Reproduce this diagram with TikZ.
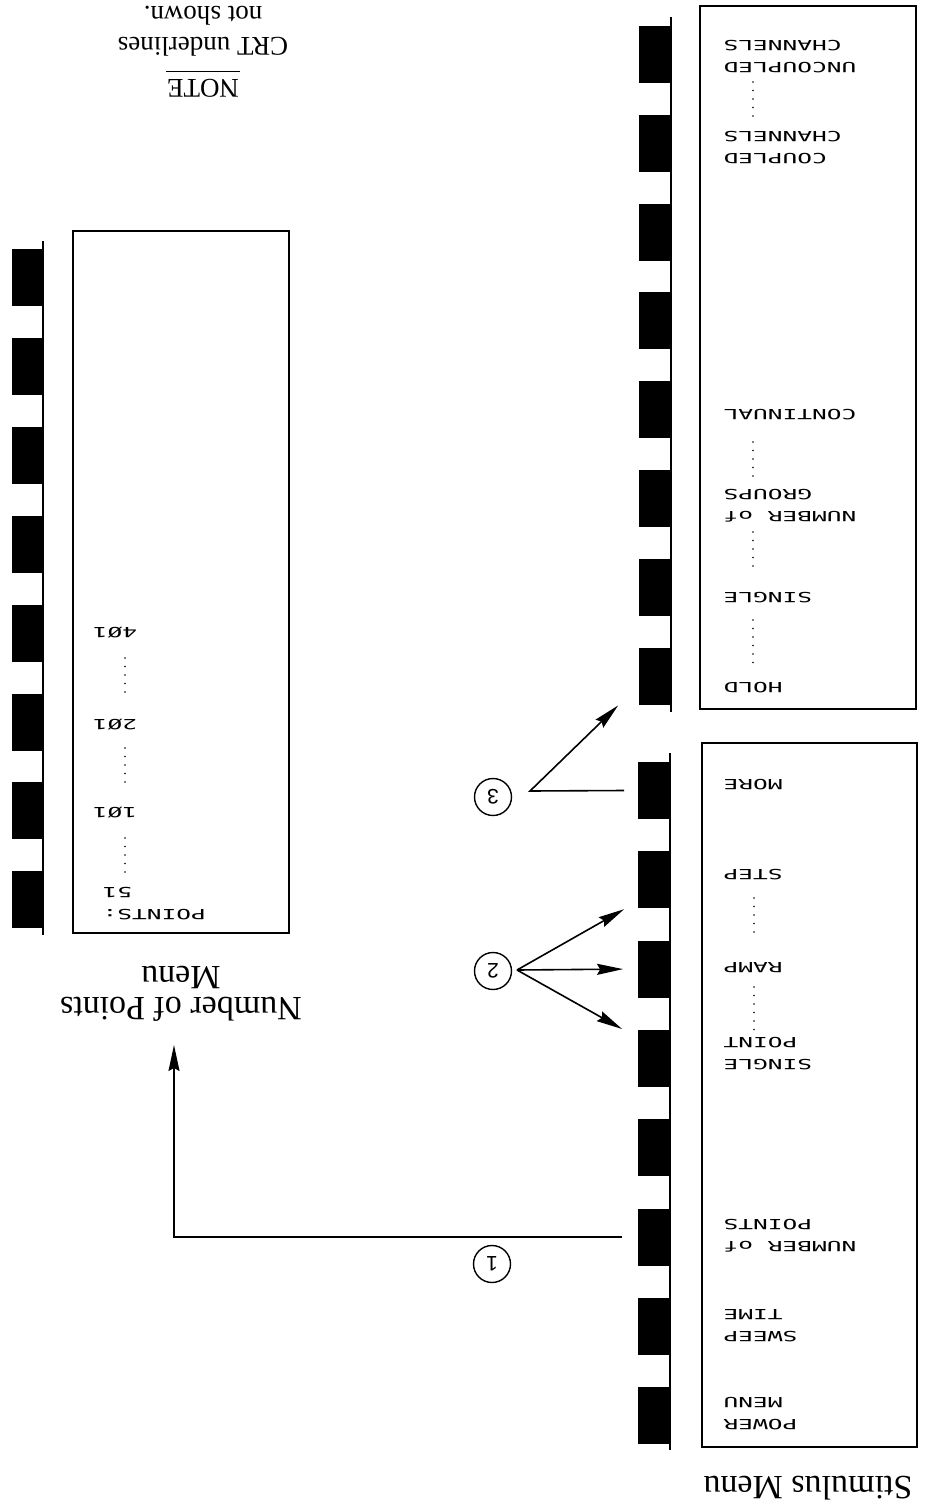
\documentclass[tikz,border=0pt]{standalone}
\usepackage{fontspec}
\setmainfont{Liberation Serif}
\newfontfamily\crtfont{DejaVu Sans Mono}
\newfontfamily\numfont{Liberation Sans}
\usetikzlibrary{arrows.meta}
\tikzstyle{arrow} = [line width=1.6pt,-{Stealth[length=26pt,width=11pt,inset=3pt]}]
\tikzstyle{softkey} = [fill=black, minimum width=32pt, minimum height=57pt, inner sep=0pt]
\tikzstyle{crt} = [rotate=180, xscale=1.75, inner sep=0pt, anchor=east, align=right, font=\crtfont\fontsize{14}{22}\selectfont]
\tikzstyle{caption} = [rotate=180, inner sep=0pt, align=center, font=\fontsize{34}{31}\selectfont]
\tikzstyle{notetext} = [rotate=180, inner sep=0pt, anchor=base, font=\fontsize{27}{30}\selectfont]
\tikzstyle{num} = [draw, circle, line width=1.4pt, minimum size=37pt, inner sep=0pt, rotate=180, font=\numfont\fontsize{21}{24}\selectfont]
\tikzstyle{crtdots} = [line width=1.8pt, line cap=round, dash pattern=on 0pt off 8.5pt]

\begin{document}
\begin{tikzpicture}[x=1pt, y=-1pt, line width=1.8pt]
  \useasboundingbox (0,0) rectangle (924,1511);
  % screens and softkey columns
  \draw (73,231) rectangle (289,933);
  \draw (700,6) rectangle (916,709);
  \draw (702,743) rectangle (917,1447);
  \draw (43,241) -- (43,935);
  \draw (671,17) -- (671,712);
  \draw (670,753) -- (670,1450);
  \foreach \i in {1,...,8} {
    \node[softkey] (ka\i) at (655,{54.5+88.8*(\i-1)}) {};
    \node[softkey] (kb\i) at (654,{790.5+89.3*(\i-1)}) {};
    \node[softkey] (kc\i) at (27.5,{277.5+88.9*(\i-1)}) {};
  }
  % stimulus menu
  \node[crt] (power) at (722,1414) {POWER\\MENU};
  \node[crt] (sweep) at (722,1326) {SWEEP\\TIME};
  \node[crt] (npts) at (722,1236) {NUMBER of\\POINTS};
  \node[crt] (spoint) at (722,1054) {SINGLE\\POINT};
  \node[crt] (ramp) at (722,968) {RAMP};
  \node[crt] (stepk) at (722,875) {STEP};
  \node[crt] (more) at (722,785) {MORE};
  % more page
  \node[crt] (hold) at (722,688) {HOLD};
  \node[crt] (single) at (722,598) {SINGLE};
  \node[crt] (ngroups) at (722,506) {NUMBER of\\GROUPS};
  \node[crt] (contin) at (722,415) {CONTINUAL};
  \node[crt] (coupled) at (722,148) {COUPLED\\CHANNELS};
  \node[crt] (uncoupled) at (722,56.5) {UNCOUPLED\\CHANNELS};
  % number of points menu
  \node[crt] (pts) at (101,904) {POINTS:\\51};
  \node[crt, anchor=center] (p101) at (115,813) {1Ø1};
  \node[crt, anchor=center] (p201) at (115,725) {2Ø1};
  \node[crt, anchor=center] (p401) at (115,633) {4Ø1};
  \foreach \x/\ya/\yb in {754/987/1032, 754/898/940, 753/620/663, 753/532/573, 753/442/483, 753/82/122, 125/838/880, 125/748/790, 125/658/700}
    \draw[crtdots] (\x,\ya) -- (\x,\yb);
  % captions
  \node[caption] (stimmenu) at (808,1488) {Stimulus Menu};
  \node[caption] (npmenu) at (181,994) {Number of Points\\Menu};
  \node[notetext] (note) at (203,80) {NOTE};
  \node[notetext] (crtnote) at (203,38) {CRT underlines};
  \node[notetext] (notshown) at (203,7) {not shown.};
  \draw[line width=1pt] ([yshift=8pt]note.base west) -- ([yshift=8pt]note.base east);
  % steps
  \node[num] (n1) at (492,1264) {1};
  \node[num] (n2) at (493,971) {2};
  \node[num] (n3) at (493,797) {3};
  \coordinate (nptip) at (174,1045);
  \coordinate (j2) at (517,970);
  \coordinate (j3) at (530,791);
  \draw[arrow] ([xshift=-15pt]kb6.west) -| (nptip);
  \draw[arrow] (j2) -- ([xshift=-13pt]kb2.south west);
  \draw[arrow] (j2) -- ([xshift=-14pt]kb3.west);
  \draw[arrow] (j2) -- ([xshift=-15pt]kb4.north west);
  \draw[arrow] ([xshift=-13pt]kb1.west) -- (j3) -- ([xshift=-20pt]ka8.south west);
\end{tikzpicture}
\end{document}
